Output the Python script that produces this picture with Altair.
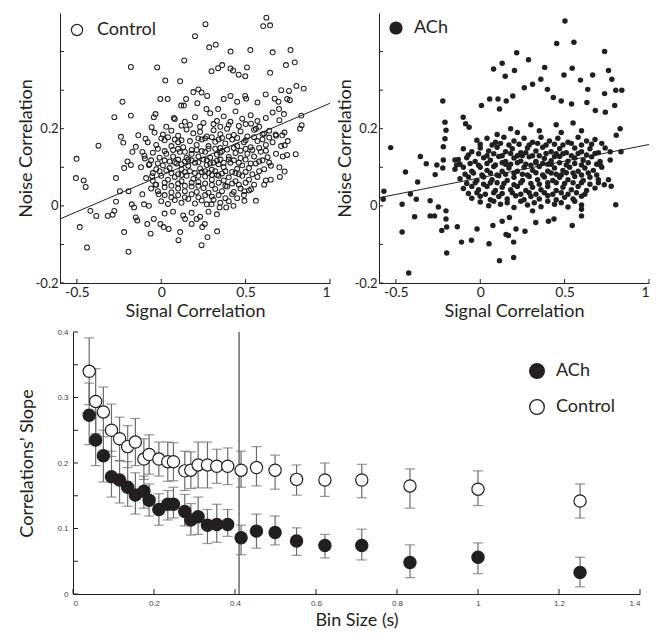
import altair as alt
import pandas as pd

FONT = "Lato"
INK = "#231f20"

# ---------------- top panels: scatter data ----------------
ctrl_outliers = [
    (0.623, 0.488), (0.604, 0.466), (0.645, 0.468), (0.262, 0.471), (0.2, 0.44), (0.284, 0.411),
    (0.323, 0.418), (0.136, 0.377), (0.411, 0.40), (0.528, 0.404), (0.66, 0.398), (0.766, 0.404),
    (-0.18, 0.36), (-0.024, 0.359), (0.024, 0.325), (0.112, 0.323), (0.298, 0.349), (0.337, 0.357),
    (0.361, 0.365), (0.41, 0.356), (0.426, 0.351), (0.459, 0.34), (0.498, 0.336), (0.508, 0.359),
    (0.645, 0.345), (0.739, 0.365), (0.791, 0.372), (0.844, 0.304), (0.801, 0.311), (0.757, 0.298),
    (0.711, 0.30), (-0.23, 0.27), (-0.278, 0.23), (-0.18, 0.234), (-0.005, 0.277), (0.038, 0.277),
    (-0.044, 0.23), (-0.034, 0.238), (0.075, 0.228), (0.118, 0.26), (0.134, 0.26), (0.147, 0.277),
    (0.19, 0.295), (0.22, 0.302), (0.239, 0.294), (0.272, 0.285), (0.214, 0.266), (0.268, 0.251),
    (0.337, 0.251), (0.37, 0.277), (0.41, 0.285), (0.45, 0.27), (0.497, 0.285), (0.503, 0.278),
    (0.57, 0.268), (0.619, 0.289), (0.672, 0.278), (0.695, 0.27), (0.746, 0.277), (0.762, 0.274),
    (0.727, 0.238), (0.698, 0.251), (0.83, 0.234), (0.822, 0.2), (0.832, 0.209),
    (-0.502, 0.122), (-0.506, 0.072), (-0.46, 0.066), (-0.448, 0.049), (-0.483, -0.055), (-0.44, -0.108),
    (-0.42, -0.013), (-0.385, -0.026), (-0.372, 0.156), (-0.317, -0.026), (-0.288, -0.023), (-0.278, -0.013),
    (-0.268, 0.011), (-0.268, 0.072), (-0.245, 0.038), (-0.22, -0.068), (-0.194, -0.119), (-0.239, 0.179),
    (-0.225, 0.164), (-0.194, 0.038), (-0.175, 0.004), (-0.161, -0.004), (-0.18, 0.106), (-0.22, 0.098),
    (-0.2, 0.115), (-0.171, 0.14), (-0.151, 0.153), (-0.136, 0.183), (-0.151, -0.03), (-0.142, -0.038),
    (-0.112, 0.03), (-0.102, 0.004), (-0.083, -0.047), (-0.073, 0.0), (-0.063, -0.072), (-0.044, -0.034),
    (-0.057, 0.204), (-0.093, 0.174), (-0.112, 0.14), (-0.097, 0.123), (-0.073, 0.106), (-0.054, 0.077),
    (-0.034, 0.055), (-0.015, 0.03), (-0.005, -0.047), (0.014, -0.055), (0.044, -0.06), (0.102, -0.089),
    (0.112, -0.068), (0.141, -0.034), (0.18, -0.047), (0.21, -0.034), (0.239, -0.102), (0.243, -0.055),
    (0.258, -0.047), (0.274, -0.081), (0.331, -0.066), (0.298, 0.004), (0.346, -0.004), (0.385, -0.004),
    (0.428, 0.0), (0.493, 0.013), (0.561, 0.013), (0.493, 0.038), (0.532, 0.043), (0.61, 0.055),
    (0.649, 0.068), (0.703, 0.075), (0.731, 0.089), (0.797, 0.134), (0.746, 0.132), (0.731, 0.157),
    (0.717, 0.183), (0.678, 0.185), (0.61, 0.187), (0.561, 0.2), (0.532, 0.213),
]
ctrl_cloud = [
    (0.08, 0.225), (0.14, 0.218), (0.2, 0.23), (0.25, 0.215), (0.29, 0.24), (0.33, 0.22), (0.37, 0.232),
    (0.41, 0.218), (0.44, 0.245), (0.48, 0.226), (0.53, 0.235), (0.57, 0.22), (0.62, 0.228), (0.66, 0.242),
    (0.7, 0.222),
    (-0.04, 0.19), (0.01, 0.185), (0.06, 0.195), (0.1, 0.182), (0.15, 0.198), (0.19, 0.188), (0.23, 0.192),
    (0.27, 0.18), (0.31, 0.196), (0.35, 0.186), (0.39, 0.2), (0.43, 0.184), (0.47, 0.193), (0.51, 0.18),
    (0.55, 0.197), (0.6, 0.186), (0.64, 0.195), (0.68, 0.182), (0.73, 0.19),
    (-0.08, 0.165), (-0.03, 0.158), (0.02, 0.17), (0.06, 0.155), (0.1, 0.165), (0.13, 0.152), (0.17, 0.168),
    (0.21, 0.158), (0.24, 0.172), (0.28, 0.155), (0.32, 0.166), (0.35, 0.15), (0.38, 0.162), (0.42, 0.172),
    (0.45, 0.155), (0.49, 0.165), (0.53, 0.152), (0.57, 0.168), (0.62, 0.158), (0.66, 0.165), (0.71, 0.155),
    (0.75, 0.168),
    (-0.1, 0.13), (-0.05, 0.138), (-0.01, 0.125), (0.03, 0.135), (0.07, 0.128), (0.11, 0.14), (0.15, 0.125),
    (0.18, 0.135), (0.22, 0.128), (0.26, 0.14), (0.29, 0.125), (0.33, 0.133), (0.36, 0.142), (0.4, 0.127),
    (0.44, 0.137), (0.47, 0.124), (0.51, 0.135), (0.55, 0.128), (0.59, 0.14), (0.63, 0.126), (0.68, 0.135),
    (0.72, 0.128),
    (-0.12, 0.1), (-0.07, 0.108), (-0.03, 0.095), (0.01, 0.105), (0.05, 0.098), (0.09, 0.11), (0.12, 0.095),
    (0.16, 0.104), (0.2, 0.112), (0.23, 0.097), (0.27, 0.106), (0.3, 0.094), (0.34, 0.108), (0.37, 0.1),
    (0.41, 0.112), (0.45, 0.096), (0.48, 0.105), (0.52, 0.098), (0.56, 0.11), (0.61, 0.095), (0.65, 0.104),
    (0.7, 0.1),
    (-0.09, 0.072), (-0.05, 0.065), (0.0, 0.078), (0.04, 0.068), (0.08, 0.075), (0.12, 0.064), (0.15, 0.078),
    (0.19, 0.07), (0.22, 0.062), (0.26, 0.076), (0.3, 0.068), (0.33, 0.08), (0.37, 0.066), (0.4, 0.074),
    (0.44, 0.064), (0.48, 0.078), (0.52, 0.068), (0.57, 0.075), (0.62, 0.066),
    (-0.06, 0.045), (-0.02, 0.038), (0.02, 0.048), (0.06, 0.035), (0.1, 0.045), (0.14, 0.038), (0.18, 0.05),
    (0.21, 0.036), (0.25, 0.046), (0.28, 0.034), (0.32, 0.044), (0.36, 0.038), (0.39, 0.05), (0.43, 0.036),
    (0.47, 0.045), (0.52, 0.04),
    (0.0, 0.012), (0.04, 0.005), (0.08, 0.015), (0.12, 0.008), (0.16, 0.018), (0.2, 0.006), (0.24, 0.014),
    (0.27, 0.004), (0.31, 0.016), (0.35, 0.008), (0.4, 0.012), (0.45, 0.02),
    (0.02, -0.02), (0.07, -0.015), (0.13, -0.025), (0.18, -0.018), (0.23, -0.028), (0.28, -0.015), (0.33, -0.022),
    (0.05, 0.115), (0.1, 0.12), (0.14, 0.115), (0.18, 0.118), (0.21, 0.145), (0.25, 0.12), (0.28, 0.148),
    (0.31, 0.112), (0.35, 0.12), (0.39, 0.146), (0.43, 0.118), (0.2, 0.085), (0.24, 0.088), (0.28, 0.085),
    (0.32, 0.09), (0.36, 0.084), (0.14, 0.088), (0.1, 0.082), (0.42, 0.088), (0.46, 0.082), (0.26, 0.175),
    (0.3, 0.178), (0.34, 0.172), (0.22, 0.175), (0.18, 0.145), (0.07, 0.145), (0.03, 0.092), (0.5, 0.12),
    (0.54, 0.145), (0.58, 0.115),
]
ctrl_core = [
    (0.03, 0.205), (0.12, 0.208), (0.17, 0.21), (0.23, 0.205), (0.31, 0.212), (0.35, 0.205), (0.4, 0.21),
    (0.46, 0.207), (0.5, 0.212), (0.58, 0.205),
    (0.0, 0.175), (0.04, 0.178), (0.08, 0.172), (0.12, 0.17), (0.36, 0.176), (0.4, 0.18), (0.45, 0.176),
    (0.5, 0.17), (0.55, 0.178), (0.6, 0.172), (0.64, 0.177),
    (-0.02, 0.148), (0.02, 0.142), (0.1, 0.148), (0.14, 0.14), (0.24, 0.142), (0.32, 0.148), (0.35, 0.138),
    (0.43, 0.15), (0.47, 0.143), (0.5, 0.148), (0.58, 0.15), (0.62, 0.143),
    (-0.06, 0.118), (-0.02, 0.11), (0.02, 0.118), (0.08, 0.113), (0.12, 0.108), (0.16, 0.12), (0.22, 0.113),
    (0.27, 0.118), (0.29, 0.11), (0.33, 0.117), (0.37, 0.112), (0.4, 0.12), (0.46, 0.112), (0.53, 0.11),
    (0.6, 0.118), (0.64, 0.112),
    (-0.05, 0.085), (-0.01, 0.09), (0.06, 0.085), (0.12, 0.08), (0.17, 0.09), (0.22, 0.078), (0.26, 0.09),
    (0.3, 0.08), (0.34, 0.078), (0.38, 0.09), (0.44, 0.085), (0.5, 0.088), (0.54, 0.082), (0.58, 0.09),
    (-0.03, 0.055), (0.02, 0.06), (0.06, 0.052), (0.1, 0.058), (0.14, 0.052), (0.18, 0.06), (0.22, 0.052),
    (0.26, 0.058), (0.3, 0.054), (0.34, 0.06), (0.38, 0.052), (0.42, 0.058), (0.46, 0.055), (0.5, 0.06),
    (0.55, 0.055),
    (0.02, 0.028), (0.06, 0.022), (0.1, 0.028), (0.14, 0.022), (0.18, 0.03), (0.22, 0.022), (0.26, 0.028),
    (0.3, 0.024), (0.34, 0.028), (0.38, 0.02), (0.42, 0.03), (0.49, 0.028),
]

ach_outliers = [
    (0.502, 0.479), (0.453, 0.421), (0.555, 0.424), (0.737, 0.40), (0.216, 0.397), (0.286, 0.379),
    (0.13, 0.37), (0.079, 0.355), (0.203, 0.351), (0.148, 0.336), (0.382, 0.359), (0.496, 0.339),
    (0.545, 0.357), (0.594, 0.326), (0.666, 0.339), (0.76, 0.351), (0.78, 0.328), (0.803, 0.30),
    (0.839, 0.30), (0.637, 0.302), (0.632, 0.268), (0.737, 0.291), (0.797, 0.26), (0.682, 0.247),
    (0.741, 0.243), (0.829, 0.2), (0.806, 0.183), (0.359, 0.328), (0.398, 0.302), (0.433, 0.281),
    (0.48, 0.272), (0.541, 0.264), (0.31, 0.315), (0.261, 0.306), (0.193, 0.285), (0.154, 0.272),
    (0.105, 0.277), (0.056, 0.277), (0.007, 0.26), (0.114, 0.251), (-0.222, 0.272), (-0.531, 0.151),
    (-0.355, 0.128), (-0.32, 0.109), (-0.443, 0.088), (-0.371, 0.062), (-0.571, 0.038), (-0.575, 0.017),
    (-0.414, 0.031), (-0.379, 0.017), (-0.463, 0.004), (-0.389, -0.028), (-0.463, -0.068), (-0.424, -0.174),
    (-0.199, -0.122), (-0.297, 0.013), (-0.297, -0.026), (-0.271, -0.026), (-0.248, -0.003), (-0.203, -0.013),
    (-0.203, -0.034), (-0.228, -0.064), (-0.199, -0.055), (-0.136, -0.054), (-0.111, -0.094), (-0.052, -0.089),
    (-0.019, -0.06), (0.052, -0.098), (0.114, -0.142), (0.198, -0.134), (0.198, -0.094), (0.075, -0.051),
    (0.13, -0.04), (0.173, -0.03), (0.212, -0.06), (0.265, -0.066), (0.153, -0.074), (0.167, -0.077),
    (0.31, -0.013), (0.329, -0.043), (0.404, -0.04), (0.437, -0.034), (0.545, -0.051), (0.6, -0.026),
    (0.6, -0.009), (0.803, 0.003), (0.76, 0.068), (0.776, 0.051), (0.735, 0.055), (0.711, 0.106),
    (0.77, 0.119), (0.77, 0.14), (0.834, 0.14), (-0.209, 0.217), (-0.203, 0.196), (-0.209, 0.174),
    (-0.219, 0.153), (-0.219, 0.119), (-0.222, 0.098), (-0.257, 0.106), (-0.267, 0.081), (-0.15, 0.119),
    (-0.14, 0.106), (-0.101, 0.23), (-0.087, 0.213), (-0.066, 0.204),
]
ach_cloud = [
    (-0.02, 0.17), (0.04, 0.175), (0.09, 0.165), (0.14, 0.178), (0.2, 0.168), (0.26, 0.175), (0.31, 0.165),
    (0.36, 0.178), (0.41, 0.168), (0.46, 0.175), (0.52, 0.165), (0.58, 0.178), (0.63, 0.168), (0.68, 0.172),
    (-0.1, 0.148), (-0.05, 0.14), (0.0, 0.15), (0.05, 0.142), (0.1, 0.152), (0.15, 0.14), (0.19, 0.148),
    (0.24, 0.138), (0.28, 0.15), (0.33, 0.142), (0.37, 0.152), (0.42, 0.14), (0.47, 0.148), (0.51, 0.138),
    (0.56, 0.15), (0.6, 0.14), (0.65, 0.148), (0.7, 0.138), (0.74, 0.15),
    (-0.13, 0.12), (-0.08, 0.125), (-0.03, 0.115), (0.02, 0.125), (0.06, 0.118), (0.11, 0.128), (0.15, 0.115),
    (0.2, 0.124), (0.24, 0.116), (0.29, 0.127), (0.33, 0.115), (0.38, 0.123), (0.42, 0.117), (0.47, 0.128),
    (0.52, 0.116), (0.56, 0.124), (0.61, 0.118), (0.66, 0.127), (0.71, 0.115),
    (-0.15, 0.095), (-0.1, 0.1), (-0.05, 0.09), (0.0, 0.1), (0.04, 0.092), (0.08, 0.102), (0.13, 0.09),
    (0.17, 0.098), (0.22, 0.09), (0.26, 0.1), (0.31, 0.092), (0.35, 0.102), (0.4, 0.09), (0.44, 0.098),
    (0.49, 0.092), (0.53, 0.1), (0.58, 0.09), (0.62, 0.098), (0.67, 0.092), (0.72, 0.1),
    (-0.12, 0.07), (-0.07, 0.075), (-0.02, 0.066), (0.02, 0.075), (0.07, 0.068), (0.11, 0.078), (0.16, 0.066),
    (0.2, 0.074), (0.25, 0.066), (0.29, 0.076), (0.34, 0.068), (0.38, 0.075), (0.43, 0.066), (0.47, 0.074),
    (0.52, 0.068), (0.56, 0.076), (0.61, 0.066), (0.65, 0.074), (0.7, 0.068),
    (-0.1, 0.045), (-0.05, 0.05), (-0.01, 0.042), (0.04, 0.05), (0.09, 0.04), (0.13, 0.048), (0.18, 0.042),
    (0.22, 0.05), (0.27, 0.04), (0.31, 0.048), (0.36, 0.042), (0.4, 0.05), (0.45, 0.04), (0.49, 0.048),
    (0.54, 0.042), (0.58, 0.05), (0.63, 0.04), (0.68, 0.046),
    (-0.05, 0.02), (0.0, 0.025), (0.06, 0.016), (0.11, 0.024), (0.16, 0.018), (0.21, 0.026), (0.26, 0.016),
    (0.3, 0.024), (0.35, 0.018), (0.4, 0.026), (0.45, 0.016), (0.5, 0.022), (0.55, 0.018), (0.6, 0.025),
    (0.05, 0.0), (0.12, 0.004), (0.2, -0.004), (0.28, 0.002), (0.36, -0.002), (0.44, 0.004), (0.52, -0.003),
    (0.6, 0.002),
    (0.1, 0.185), (0.22, 0.19), (0.35, 0.195), (0.48, 0.19), (0.6, 0.195), (0.3, 0.21), (0.45, 0.21),
    (0.18, 0.2), (0.55, 0.215), (0.25, 0.13), (0.3, 0.105), (0.35, 0.13), (0.4, 0.108), (0.45, 0.135),
    (0.15, 0.108), (0.1, 0.06), (0.2, 0.055), (0.3, 0.058), (0.4, 0.06), (0.5, 0.058), (0.6, 0.06),
    (0.55, 0.085), (0.45, 0.082), (0.25, 0.082), (0.15, 0.082),
]
ach_core = [
    (0.0, 0.16), (0.07, 0.158), (0.12, 0.162), (0.17, 0.158), (0.23, 0.16), (0.29, 0.158), (0.34, 0.162),
    (0.39, 0.158), (0.44, 0.16), (0.49, 0.158), (0.54, 0.162), (0.6, 0.158), (0.66, 0.16), (0.72, 0.162),
    (-0.07, 0.132), (-0.01, 0.135), (0.04, 0.13), (0.08, 0.135), (0.13, 0.13), (0.18, 0.136), (0.22, 0.13),
    (0.27, 0.138), (0.31, 0.13), (0.39, 0.136), (0.44, 0.128), (0.49, 0.135), (0.54, 0.13), (0.58, 0.136),
    (0.63, 0.132), (0.68, 0.136),
    (-0.12, 0.108), (-0.06, 0.11), (-0.01, 0.105), (0.04, 0.11), (0.09, 0.106), (0.13, 0.112), (0.18, 0.108),
    (0.22, 0.112), (0.27, 0.108), (0.33, 0.112), (0.37, 0.11), (0.42, 0.108), (0.47, 0.112), (0.51, 0.106),
    (0.56, 0.11), (0.6, 0.106), (0.64, 0.112), (0.69, 0.108),
    (-0.09, 0.082), (-0.04, 0.085), (0.01, 0.08), (0.06, 0.085), (0.1, 0.08), (0.2, 0.085), (0.28, 0.08),
    (0.33, 0.086), (0.37, 0.08), (0.42, 0.085), (0.48, 0.08), (0.51, 0.086), (0.6, 0.08), (0.64, 0.085),
    (0.69, 0.08),
    (-0.08, 0.058), (-0.03, 0.06), (0.02, 0.056), (0.06, 0.06), (0.14, 0.058), (0.24, 0.06), (0.35, 0.056),
    (0.45, 0.06), (0.55, 0.06), (0.65, 0.056), (0.7, 0.06),
    (-0.07, 0.032), (-0.02, 0.034), (0.03, 0.03), (0.08, 0.034), (0.13, 0.032), (0.19, 0.034), (0.24, 0.03),
    (0.29, 0.034), (0.33, 0.03), (0.38, 0.034), (0.43, 0.03), (0.48, 0.034), (0.52, 0.03), (0.57, 0.034),
    (0.62, 0.03),
    (0.0, 0.01), (0.08, 0.012), (0.16, 0.008), (0.24, 0.012), (0.32, 0.008), (0.4, 0.012), (0.48, 0.008),
    (0.56, 0.012),
]

fit_x = [-0.6, 1.0]
ctrl_fit_y = [-0.034, 0.266]
ach_fit_y = [0.021, 0.159]

sc_xticks = [-0.5, 0.0, 0.5, 1.0]
sc_yticks_all = [-0.2, -0.1, 0.0, 0.1, 0.2, 0.3, 0.4]
sc_ylabels = [-0.2, 0.0, 0.2]

# ---------------- bottom panel data ----------------
bin_size = [0.04, 0.056, 0.075, 0.095, 0.115, 0.135, 0.154, 0.175, 0.188, 0.212, 0.234, 0.248, 0.276, 0.291,
            0.309, 0.332, 0.355, 0.382, 0.415, 0.453, 0.499, 0.552, 0.622, 0.713, 0.832, 1.0, 1.252]
ctrl_slope = [0.340, 0.294, 0.278, 0.250, 0.237, 0.225, 0.232, 0.206, 0.213, 0.206, 0.202, 0.202, 0.188, 0.189,
              0.197, 0.197, 0.195, 0.195, 0.189, 0.193, 0.189, 0.175, 0.174, 0.174, 0.165, 0.160, 0.142]
ctrl_hi = [0.391, 0.344, 0.316, 0.290, 0.270, 0.257, 0.268, 0.237, 0.243, 0.232, 0.232, 0.231, 0.218, 0.217,
           0.232, 0.232, 0.221, 0.223, 0.218, 0.225, 0.212, 0.197, 0.200, 0.198, 0.191, 0.188, 0.168]
ctrl_lo = [0.289, 0.245, 0.240, 0.210, 0.204, 0.193, 0.196, 0.175, 0.183, 0.180, 0.172, 0.173, 0.158, 0.161,
           0.162, 0.162, 0.169, 0.167, 0.163, 0.165, 0.160, 0.151, 0.149, 0.147, 0.131, 0.135, 0.116]
ach_slope = [0.273, 0.235, 0.211, 0.179, 0.174, 0.163, 0.151, 0.157, 0.143, 0.129, 0.137, 0.137, 0.126, 0.113,
             0.118, 0.105, 0.106, 0.106, 0.086, 0.096, 0.094, 0.081, 0.074, 0.074, 0.048, 0.056, 0.033]
ach_hi = [0.322, 0.276, 0.250, 0.218, 0.203, 0.202, 0.185, 0.180, 0.168, 0.153, 0.158, 0.163, 0.152, 0.138,
          0.148, 0.129, 0.137, 0.129, 0.105, 0.122, 0.119, 0.101, 0.091, 0.099, 0.075, 0.078, 0.056]
ach_lo = [0.228, 0.196, 0.171, 0.148, 0.139, 0.134, 0.122, 0.131, 0.119, 0.105, 0.113, 0.116, 0.104, 0.090,
          0.091, 0.077, 0.079, 0.088, 0.060, 0.070, 0.075, 0.059, 0.055, 0.052, 0.025, 0.031, 0.011]
vline_x = [0.41]
b_xticks = [0.0, 0.2, 0.4, 0.6, 0.8, 1.0, 1.2, 1.4]
b_yticks = [0.0, 0.05, 0.1, 0.15, 0.2, 0.25, 0.3, 0.35, 0.4]

TW, TH = 270, 270
BW, BH = 580, 262
BSHIFT = 13  # bottom plot starts further right than the scatter panels

LABEL_EXPR = "datum.value == 0 ? '0' : '' + datum.value"


def scatter_panel(points, fit_y, group, filled, legend_x, legend_y, lbl_offset, sym_size):
    df = pd.DataFrame(points, columns=["x", "y"])
    df["group"] = group
    xs = alt.Scale(domain=[-0.6, 1.0], nice=False, zero=False)
    ys = alt.Scale(domain=[-0.2, 0.5], nice=False, zero=False)
    xax = alt.Axis(values=sc_xticks, title="Signal Correlation", ticks=False, tickSize=0, grid=False,
                   labelExpr=LABEL_EXPR, labelFontSize=14, titleFontSize=18, labelPadding=2, titlePadding=3)
    yax = alt.Axis(values=sc_ylabels, title="Noise Correlation", ticks=False, tickSize=0, grid=False,
                   minExtent=0, labelExpr=LABEL_EXPR, labelFontSize=13, titleFontSize=18,
                   labelPadding=2, titlePadding=0)
    pts = alt.Chart(df).mark_point(
        filled=filled, size=(30 if filled else 24), strokeWidth=(0 if filled else 1.05), opacity=1
    ).encode(
        x=alt.X("x:Q", scale=xs, axis=xax),
        y=alt.Y("y:Q", scale=ys, axis=yax),
        color=alt.Color("group:N", scale=alt.Scale(domain=[group], range=[INK]),
                        legend=alt.Legend(orient="none", legendX=legend_x, legendY=legend_y, title=None,
                                          symbolSize=sym_size, labelFontSize=18, labelFont=FONT,
                                          labelOffset=lbl_offset, padding=0, symbolStrokeWidth=1.2)),
    )
    fit = alt.Chart(pd.DataFrame({"x": fit_x, "y": fit_y})).mark_line(color=INK, strokeWidth=1).encode(
        x=alt.X("x:Q", scale=xs), y=alt.Y("y:Q", scale=ys))
    ytk = alt.Chart(pd.DataFrame({"y": sc_yticks_all})).mark_rule(color=INK, strokeWidth=1).encode(
        y=alt.Y("y:Q", scale=ys), x=alt.value(0), x2=alt.value(4))
    xtk = alt.Chart(pd.DataFrame({"x": sc_xticks})).mark_rule(color=INK, strokeWidth=1).encode(
        x=alt.X("x:Q", scale=xs), y=alt.value(TH), y2=alt.value(TH - 4))
    return alt.layer(pts, fit, ytk, xtk).properties(width=TW, height=TH)


top_left = scatter_panel(ctrl_outliers + ctrl_cloud + ctrl_core, ctrl_fit_y, "Control", False, 8, 8, 11, 125)
top_right = scatter_panel(ach_outliers + ach_cloud + ach_core, ach_fit_y, "ACh", True, 8, 6, 9, 175)

# bottom
bdf = pd.DataFrame({
    "bin": bin_size + bin_size,
    "slope": ach_slope + ctrl_slope,
    "lo": ach_lo + ctrl_lo,
    "hi": ach_hi + ctrl_hi,
    "series": ["ACh"] * len(bin_size) + ["Control"] * len(bin_size),
})
bx = alt.Scale(domain=[0, 1.4], nice=False, zero=False, range=[BSHIFT, BW])
by = alt.Scale(domain=[0, 0.4], nice=False, zero=False)
bxax = alt.Axis(values=b_xticks, title="Bin Size (s)", ticks=False, tickSize=0, grid=False,
                labelExpr=LABEL_EXPR, labelFontSize=8, labelFont="Liberation Sans", labelColor="#444",
                titleFontSize=18, labelPadding=5, titlePadding=4, titleX=BSHIFT + (BW - BSHIFT) / 2)
byax = alt.Axis(values=b_yticks, title="Correlations\u2019 Slope", ticks=False, tickSize=0, grid=False,
                minExtent=0, offset=-BSHIFT, labelExpr=LABEL_EXPR, labelFontSize=8,
                labelFont="Liberation Sans", labelColor="#444",
                titleFontSize=18, labelPadding=5, titlePadding=20)

ERR = "#6b6b6b"
err = alt.Chart(bdf).mark_rule(color=ERR, strokeWidth=1.2).encode(
    x=alt.X("bin:Q", scale=bx, axis=bxax), y=alt.Y("lo:Q", scale=by, axis=byax), y2="hi:Q")
cap_lo = alt.Chart(bdf).mark_tick(color=ERR, orient="horizontal", size=10, thickness=1.2).encode(
    x=alt.X("bin:Q", scale=bx), y=alt.Y("lo:Q", scale=by))
cap_hi = alt.Chart(bdf).mark_tick(color=ERR, orient="horizontal", size=10, thickness=1.2).encode(
    x=alt.X("bin:Q", scale=bx), y=alt.Y("hi:Q", scale=by))
vline = alt.Chart(pd.DataFrame({"bin": vline_x, "lo": [0.0], "hi": [0.4]})).mark_rule(
    color=INK, strokeWidth=1).encode(x=alt.X("bin:Q", scale=bx), y=alt.Y("lo:Q", scale=by), y2="hi:Q")
pts = alt.Chart(bdf).mark_point(filled=True, size=150, stroke=INK, strokeWidth=1.2, opacity=1).encode(
    x=alt.X("bin:Q", scale=bx), y=alt.Y("slope:Q", scale=by),
    fill=alt.Fill("series:N", scale=alt.Scale(domain=["ACh", "Control"], range=[INK, "white"]),
                  legend=alt.Legend(orient="none", legendX=468, legendY=30, title=None, symbolSize=215,
                                    symbolStrokeColor=INK, symbolStrokeWidth=1.3, labelFontSize=18,
                                    labelFont=FONT, labelOffset=10, rowPadding=16, padding=0)),
)
bytk = alt.Chart(pd.DataFrame({"y": b_yticks})).mark_rule(color=INK, strokeWidth=1).encode(
    y=alt.Y("y:Q", scale=by), x=alt.value(BSHIFT), x2=alt.value(BSHIFT + 5))
bxtk = alt.Chart(pd.DataFrame({"x": b_xticks})).mark_rule(color=INK, strokeWidth=1).encode(
    x=alt.X("x:Q", scale=bx), y=alt.value(BH), y2=alt.value(BH - 5))
bottom = alt.layer(vline, err, cap_lo, cap_hi, pts, bytk, bxtk).properties(width=BW, height=BH)

top_row = alt.hconcat(top_left, top_right, spacing=4).resolve_scale(
    color="independent").resolve_legend(color="independent")

chart = alt.vconcat(top_row, bottom, spacing=8).resolve_scale(
    color="independent", fill="independent").resolve_legend(
    color="independent", fill="independent").properties(
    padding={"left": 9, "top": 5, "right": 0, "bottom": 0}
).configure(font=FONT).configure_view(stroke=None).configure_axis(
    domainColor=INK, domainWidth=1, labelColor=INK, titleColor=INK, titleFontWeight="normal",
    labelFont=FONT, titleFont=FONT,
).configure_legend(labelColor=INK)

chart.save("out.html", embed_options={"renderer": "svg", "actions": False})
